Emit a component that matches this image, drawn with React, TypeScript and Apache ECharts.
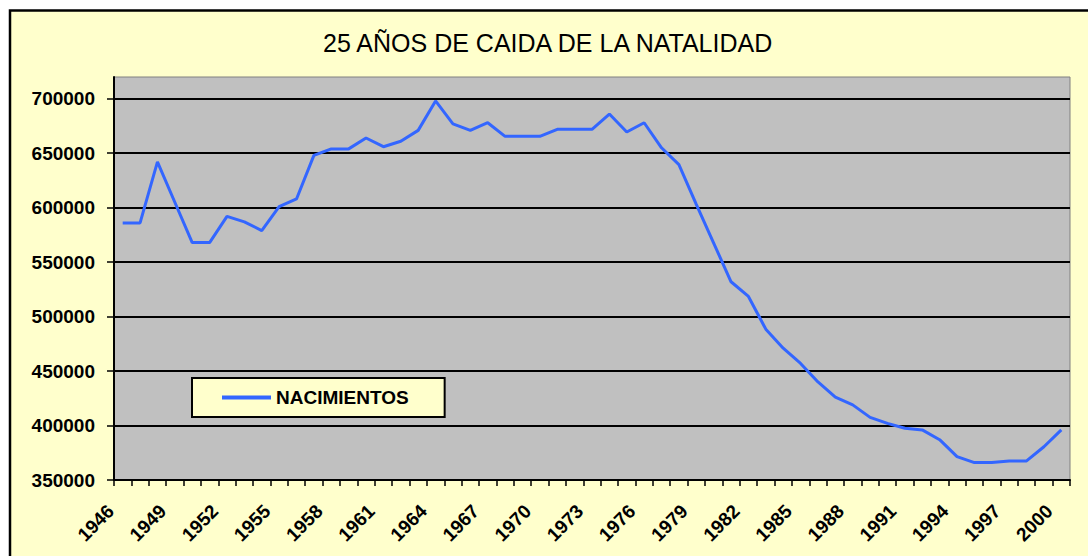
import React, { useEffect, useRef } from "react";
import * as echarts from "echarts";

const TITLE = "25 AÑOS DE CAIDA DE LA NATALIDAD";
const SERIES_NAME = "NACIMIENTOS";

const years = [
  "1946", "1947", "1948", "1949", "1950", "1951", "1952", "1953", "1954", "1955",
  "1956", "1957", "1958", "1959", "1960", "1961", "1962", "1963", "1964", "1965",
  "1966", "1967", "1968", "1969", "1970", "1971", "1972", "1973", "1974", "1975",
  "1976", "1977", "1978", "1979", "1980", "1981", "1982", "1983", "1984", "1985",
  "1986", "1987", "1988", "1989", "1990", "1991", "1992", "1993", "1994", "1995",
  "1996", "1997", "1998", "1999", "2000",
];

const births = [
  586000, 586000, 642000, 605000, 568000, 568000, 592000, 587000, 579000, 601000,
  608000, 648000, 654000, 654000, 664000, 656000, 661000, 671000, 698000, 677000,
  671000, 678000, 665500, 665500, 665500, 672000, 672000, 672000, 686000, 669500,
  678000, 655000, 639500, 603000, 567500, 532000, 518500, 488500, 471000, 457000,
  440000, 426000, 419000, 407500, 402000, 397500, 396000, 387000, 371500, 366000,
  366000, 367500, 367500, 380500, 396000,
];

const yTicks = [350000, 400000, 450000, 500000, 550000, 600000, 650000, 700000];
const Y_MIN = 350000;
const Y_MAX = 720000;
const Y_STEP = 50000;

const FONT = "'Liberation Sans', Arial, sans-serif";

export default function App() {
  const ref = useRef<HTMLDivElement>(null);

  useEffect(() => {
    if (!ref.current) return;
    const chart = echarts.init(ref.current, undefined, { renderer: "svg" });
    chart.setOption({
      animation: false,
      backgroundColor: "#FFFFFF",
      graphic: {
        elements: [
          {
            type: "rect",
            z: -100,
            silent: true,
            shape: { x: 10, y: 10.5, width: 1200, height: 700 },
            style: { fill: "#FFFFCC", stroke: "#000000", lineWidth: 2.5 },
          },
        ],
      },
      title: {
        text: TITLE,
        left: 323,
        top: 30,
        padding: 0,
        textStyle: {
          fontFamily: FONT,
          fontSize: 25,
          fontWeight: "normal",
          color: "#000000",
        },
      },
      legend: {
        data: [SERIES_NAME],
        left: 192,
        top: 378,
        orient: "horizontal",
        icon: "rect",
        itemWidth: 49,
        itemHeight: 4,
        padding: [10, 36, 10, 30],
        borderColor: "#000000",
        borderWidth: 2,
        backgroundColor: "#FFFFCC",
        textStyle: {
          fontFamily: FONT,
          fontSize: 19,
          fontWeight: "bold",
          color: "#000000",
        },
      },
      grid: {
        left: 114,
        right: 18,
        top: 77,
        bottom: 76,
        show: true,
        backgroundColor: "#C0C0C0",
        borderColor: "#808080",
        borderWidth: 1,
      },
      xAxis: {
        type: "category",
        data: years,
        boundaryGap: true,
        axisLine: { show: true, lineStyle: { color: "#000000", width: 2 } },
        axisTick: {
          show: true,
          interval: 0,
          length: 6,
          inside: false,
          lineStyle: { color: "#000000", width: 1.5 },
        },
        axisLabel: {
          interval: 2,
          rotate: 45,
          margin: 16,
          padding: [0, 17, 0, 0],
          fontFamily: FONT,
          fontSize: 19,
          fontWeight: "bold",
          color: "#000000",
        },
        splitLine: { show: false },
      },
      yAxis: {
        type: "value",
        min: Y_MIN,
        max: Y_MAX,
        interval: Y_STEP,
        axisLine: { show: true, lineStyle: { color: "#000000", width: 2 } },
        axisTick: {
          show: true,
          length: 7,
          inside: false,
          customValues: yTicks,
          lineStyle: { color: "#000000", width: 1.5 },
        },
        axisLabel: {
          margin: 19,
          customValues: yTicks,
          fontFamily: FONT,
          fontSize: 19,
          fontWeight: "bold",
          color: "#000000",
          formatter: (v: number) => (v > 700000 ? "" : String(v)),
        },
        splitLine: {
          show: true,
          showMinLine: false,
          lineStyle: { color: "#000000", width: 2 },
        },
      },
      series: [
        {
          name: SERIES_NAME,
          type: "line",
          data: births,
          symbol: "none",
          color: "#3366FF",
          lineStyle: { color: "#3366FF", width: 3 },
          itemStyle: { color: "#3366FF" },
        },
      ],
    });
    return () => chart.dispose();
  }, []);

  return (
    <div
      ref={ref}
      style={{ position: "fixed", left: 0, top: 0, width: 1088, height: 556 }}
    />
  );
}
